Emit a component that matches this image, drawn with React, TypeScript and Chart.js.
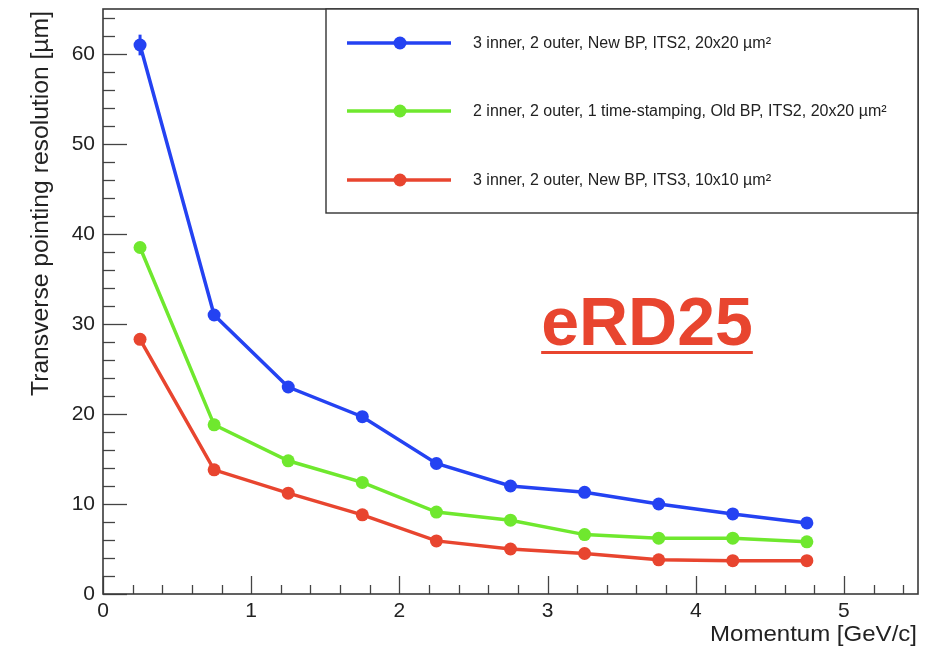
import React, { useEffect, useRef } from "react";
import { Chart, registerables } from "chart.js";
Chart.register(...registerables);

const momentum = [0.25, 0.75, 1.25, 1.75, 2.25, 2.75, 3.25, 3.75, 4.25, 4.75];
const blueValues = [61.0, 31.0, 23.0, 19.7, 14.5, 12.0, 11.3, 10.0, 8.9, 7.9];
const blueErrors = [1.15, 0.4, 0.3, 0.3, 0.3, 0.2, 0.2, 0.2, 0.2, 0.2];
const greenValues = [38.5, 18.8, 14.8, 12.4, 9.1, 8.2, 6.6, 6.2, 6.2, 5.8];
const redValues = [28.3, 13.8, 11.2, 8.8, 5.9, 5.0, 4.5, 3.8, 3.7, 3.7];
const seriesLabels = [
  "3 inner, 2 outer, New BP, ITS2, 20x20 \u00b5m\u00b2",
  "2 inner, 2 outer, 1 time-stamping, Old BP, ITS2, 20x20 \u00b5m\u00b2",
  "3 inner, 2 outer, New BP, ITS3, 10x10 \u00b5m\u00b2",
];
const seriesColors = ["#2442f2", "#6fe82e", "#e8452f"];
const xTickValues = [0, 1, 2, 3, 4, 5];
const yTickValues = [0, 10, 20, 30, 40, 50, 60];
const xTitle = "Momentum [GeV/c]";
const yTitle = "Transverse pointing resolution [\u00b5m]";
const stampText = "eRD25";

const FONT = "'Liberation Sans', Arial, Helvetica, sans-serif";

function stretchedText(ctx: any, text: string, x: number, y: number, targetW: number, rot: number) {
  const w = ctx.measureText(text).width;
  ctx.save();
  ctx.translate(x, y);
  ctx.rotate(rot);
  ctx.scale(targetW / w, 1);
  ctx.textAlign = "left";
  ctx.textBaseline = "alphabetic";
  ctx.fillText(text, 0, 0);
  ctx.restore();
}

const decorPlugin = {
  id: "decor",
  beforeDatasetsDraw(chart: any) {
    const { ctx, scales } = chart;
    const xs = scales.x;
    const ys = scales.y;
    ctx.save();
    ctx.strokeStyle = seriesColors[0];
    ctx.lineWidth = 3;
    momentum.forEach((m, i) => {
      const px = xs.getPixelForValue(m);
      ctx.beginPath();
      ctx.moveTo(px, ys.getPixelForValue(blueValues[i] - blueErrors[i]));
      ctx.lineTo(px, ys.getPixelForValue(blueValues[i] + blueErrors[i]));
      ctx.stroke();
    });
    ctx.restore();
  },
  afterDraw(chart: any) {
    const { ctx, chartArea: a, scales } = chart;
    const xs = scales.x;
    const ys = scales.y;
    ctx.save();
    // ticks
    ctx.strokeStyle = "#444";
    ctx.lineWidth = 1.3;
    for (let i = 0; i <= 27; i++) {
      const v = i * 0.2;
      const px = Math.round(xs.getPixelForValue(v)) + 0.5;
      const len = i % 5 === 0 ? 18 : 9;
      ctx.beginPath();
      ctx.moveTo(px, a.bottom);
      ctx.lineTo(px, a.bottom - len);
      ctx.stroke();
    }
    for (let i = 0; i <= 32; i++) {
      const v = i * 2;
      const py = Math.round(ys.getPixelForValue(v)) + 0.5;
      const len = i % 5 === 0 ? 24 : 12;
      ctx.beginPath();
      ctx.moveTo(a.left, py);
      ctx.lineTo(a.left + len, py);
      ctx.stroke();
    }
    // frame
    ctx.lineWidth = 1.6;
    ctx.strokeStyle = "#3a3a3a";
    ctx.strokeRect(a.left, a.top, a.right - a.left, a.bottom - a.top);

    // legend
    const lx0 = 326, ly0 = a.top, lx1 = a.right, ly1 = 213;
    ctx.fillStyle = "#fff";
    ctx.fillRect(lx0, ly0, lx1 - lx0, ly1 - ly0);
    ctx.strokeStyle = "#333";
    ctx.lineWidth = 1.4;
    ctx.strokeRect(lx0, ly0, lx1 - lx0, ly1 - ly0);
    const rows = [43, 111, 180];
    chart.data.datasets.forEach((ds: any, i: number) => {
      const y = rows[i];
      ctx.strokeStyle = ds.borderColor;
      ctx.lineWidth = 3.5;
      ctx.beginPath();
      ctx.moveTo(347, y);
      ctx.lineTo(451, y);
      ctx.stroke();
      ctx.fillStyle = ds.borderColor;
      ctx.beginPath();
      ctx.arc(400, y, 6.5, 0, Math.PI * 2);
      ctx.fill();
      ctx.fillStyle = "#222";
      ctx.font = `16px ${FONT}`;
      ctx.textAlign = "left";
      ctx.textBaseline = "middle";
      ctx.fillText(ds.label, 473, y + 1);
    });

    // stamp
    ctx.fillStyle = "#e8452f";
    ctx.font = `bold 68px ${FONT}`;
    ctx.textAlign = "center";
    ctx.textBaseline = "alphabetic";
    const sx = 647, sy = 345;
    ctx.fillText(stampText, sx, sy);
    const w = ctx.measureText(stampText).width;
    ctx.fillRect(sx - w / 2, 351, w, 3);

    // axis titles
    ctx.fillStyle = "#222";
    ctx.font = `22px ${FONT}`;
    stretchedText(ctx, xTitle, 710, 641, 207, 0);
    ctx.font = `23px ${FONT}`;
    stretchedText(ctx, yTitle, 48, 396, 385, -Math.PI / 2);
    ctx.restore();
  },
};

export default function App() {
  const ref = useRef<HTMLCanvasElement>(null);
  useEffect(() => {
    document.body.style.margin = "0";
    const makeSet = (label: string, values: number[], color: string) => ({
      label,
      data: momentum.map((m, i) => ({ x: m, y: values[i] })),
      borderColor: color,
      backgroundColor: color,
      borderWidth: 3.5,
      pointRadius: 6.5,
      pointBorderWidth: 0,
      pointBackgroundColor: color,
      tension: 0,
    });
    const chart = new Chart(ref.current!, {
      type: "line",
      data: {
        datasets: [
          makeSet(seriesLabels[0], blueValues, seriesColors[0]),
          makeSet(seriesLabels[1], greenValues, seriesColors[1]),
          makeSet(seriesLabels[2], redValues, seriesColors[2]),
        ],
      },
      options: {
        animation: false,
        responsive: false,
        maintainAspectRatio: false,
        layout: { padding: { left: 0, right: 7, top: 9, bottom: 0 } },
        plugins: { legend: { display: false }, tooltip: { enabled: false } },
        scales: {
          x: {
            type: "linear",
            min: 0,
            max: 5.5,
            afterBuildTicks: (s: any) => {
              s.ticks = xTickValues.map((v) => ({ value: v }));
            },
            afterFit: (s: any) => {
              s.height = 58;
              s.paddingLeft = 0;
              s.paddingRight = 0;
            },
            grid: { display: false, drawTicks: false },
            border: { display: false },
            ticks: {
              color: "#222",
              font: { family: FONT, size: 21 },
              padding: 5,
              maxRotation: 0,
              autoSkip: false,
            },
          },
          y: {
            type: "linear",
            min: 0,
            max: 65,
            afterBuildTicks: (s: any) => {
              s.ticks = yTickValues.map((v) => ({ value: v }));
            },
            afterFit: (s: any) => {
              s.width = 103;
              s.paddingTop = 0;
              s.paddingBottom = 0;
            },
            grid: { display: false, drawTicks: false },
            border: { display: false },
            ticks: {
              color: "#222",
              font: { family: FONT, size: 21 },
              padding: 8,
              autoSkip: false,
            },
          },
        },
      } as any,
      plugins: [decorPlugin],
    });
    return () => chart.destroy();
  }, []);
  return (
    <div style={{ position: "absolute", left: 0, top: 0, width: 925, height: 652, background: "#fff" }}>
      <canvas ref={ref} width={925} height={652} style={{ width: 925, height: 652 }} />
    </div>
  );
}
